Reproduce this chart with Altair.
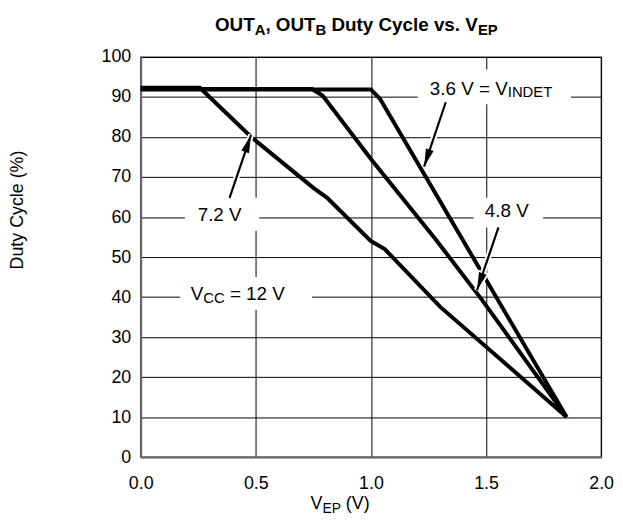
import math
import altair as alt
import pandas as pd

# ---------------- data ----------------
x_72 = [0.0, 0.257, 0.29, 0.48, 0.75, 0.81, 1.0, 1.06, 1.3, 1.85]
y_72 = [92.3, 92.3, 90.5, 80.0, 67.3, 64.8, 54.0, 52.0, 37.6, 10.0]

x_48 = [0.0, 0.744, 0.79, 1.0, 1.28, 1.48, 1.85]
y_48 = [92.0, 92.0, 90.4, 74.5, 54.5, 39.5, 10.0]

x_36 = [0.0, 1.0, 1.04, 1.85]
y_36 = [91.9, 91.9, 89.5, 10.0]

x_ticks = [0.0, 0.5, 1.0, 1.5, 2.0]
y_ticks = [0, 10, 20, 30, 40, 50, 60, 70, 80, 90, 100]

# annotation arrows (start -> tip, data units)
arrow_sx = [0.386, 1.325, 1.554]
arrow_sy = [64.8, 88.7, 57.4]
arrow_tx = [0.479, 1.231, 1.461]
arrow_ty = [80.5, 72.6, 41.7]

# white label boxes (data units)
box_x1 = [1.203, 0.192, 1.446, 0.171]
box_x2 = [1.869, 0.515, 1.748, 0.744]
box_y1 = [88.2, 56.6, 57.4, 36.8]
box_y2 = [96.9, 64.8, 64.8, 45.0]

# annotation label anchors (center x, baseline y)
lab_x = [1.522, 0.343, 1.590, 0.4215]
lab_y = [90.4, 59.0, 59.9, 39.2]

W, H = 465, 404
FONT = "Liberation Sans"

AR = {' ': 278, '(': 333, ')': 333, '.': 278, ',': 278, '=': 584, '%': 889,
      'A': 667, 'B': 667, 'C': 722, 'D': 722, 'E': 667, 'I': 278, 'N': 722,
      'O': 778, 'P': 667, 'T': 611, 'U': 722, 'V': 667,
      'c': 500, 'e': 556, 'l': 222, 's': 500, 't': 278, 'u': 556, 'v': 500, 'y': 500}
AB = {' ': 278, ',': 278, '.': 278, 'A': 722, 'B': 722, 'C': 722, 'D': 722,
      'E': 667, 'O': 778, 'P': 667, 'T': 611, 'U': 722, 'V': 667,
      'c': 556, 'e': 556, 'l': 278, 's': 556, 't': 333, 'u': 611, 'v': 556, 'y': 556}


def tw(s, size, bold=False):
    t = AB if bold else AR
    return sum(t.get(c, 556) for c in s) / 1000.0 * size


xs = alt.Scale(domain=[0, 2], nice=False)
ys = alt.Scale(domain=[0, 100], nice=False)


def rich(segs, x=None, y=None, xv=None, yv=None, anchor="center"):
    total = sum(tw(s, sz, b) for s, sz, b, sh in segs)
    off = -total / 2.0 if anchor == "center" else 0.0
    out = []
    for s, sz, b, sh in segs:
        lead = len(s) - len(s.lstrip(" "))
        core = s.strip(" ")
        d = off + tw(" " * lead, sz, b)
        mk = dict(align="left", baseline="alphabetic", font=FONT, fontSize=sz,
                  fontWeight="bold" if b else "normal", color="black", dx=d, dy=sh)
        if xv is not None:
            ch = alt.Chart(pd.DataFrame({"t": [core]})).mark_text(**mk).encode(
                x=alt.value(xv), y=alt.value(yv), text="t:N")
        else:
            ch = alt.Chart(pd.DataFrame({"x": [x], "y": [y], "t": [core]})).mark_text(**mk).encode(
                x=alt.X("x:Q", scale=xs),
                y=alt.Y("y:Q", scale=ys),
                text="t:N")
        out.append(ch)
        off += tw(s, sz, b)
    return out


# curves
rows = []
for name, xx, yy in [("7.2 V", x_72, y_72), ("4.8 V", x_48, y_48), ("3.6 V", x_36, y_36)]:
    for i, (a, b) in enumerate(zip(xx, yy)):
        rows.append({"series": name, "i": i, "x": a, "y": b})
curves_df = pd.DataFrame(rows)

curves = alt.Chart(curves_df).mark_line(color="black", strokeWidth=4, strokeJoin="miter").encode(
    x=alt.X("x:Q", scale=xs,
            axis=alt.Axis(values=x_ticks, format=".1f", grid=True, gridColor="black",
                          gridWidth=1, gridOpacity=1, ticks=False, tickSize=0,
                          domainColor="#666", domainWidth=2, labelFontSize=18,
                          labelFont=FONT, labelColor="black", labelPadding=17.5,
                          labelFlush=False, labelOverlap=False, title="")),
    y=alt.Y("y:Q", scale=ys,
            axis=alt.Axis(values=y_ticks, grid=True, gridColor="black", gridWidth=1,
                          gridOpacity=1, ticks=False, tickSize=0, domainColor="#666",
                          domainWidth=2, labelFontSize=18, labelFont=FONT,
                          labelColor="black", labelPadding=10, labelFlush=False,
                          labelOverlap=False, title="Duty Cycle (%)", titleFont=FONT,
                          titleFontSize=18, titleFontWeight="normal", titleColor="black",
                          titleX=-124, titleY=154, titleAngle=270, titleAlign="center",
                          titleBaseline="middle")),
    detail="series:N",
    order="i:Q",
)

boxes_df = pd.DataFrame({"x1": box_x1, "x2": box_x2, "y1": box_y1, "y2": box_y2})
boxes = alt.Chart(boxes_df).mark_rect(fill="white", opacity=1).encode(
    x=alt.X("x1:Q", scale=xs), x2="x2:Q",
    y=alt.Y("y1:Q", scale=ys), y2="y2:Q")

px_x = W / 2.0
px_y = H / 100.0
angles = []
for sx, sy, tx, ty in zip(arrow_sx, arrow_sy, arrow_tx, arrow_ty):
    dx = (tx - sx) * px_x
    dy = -(ty - sy) * px_y
    angles.append(math.degrees(math.atan2(dx, -dy)) % 360)

arr_df = pd.DataFrame({"sx": arrow_sx, "sy": arrow_sy, "tx": arrow_tx, "ty": arrow_ty,
                       "angle": angles})

halo = alt.Chart(arr_df).mark_rule(color="white", strokeWidth=6).encode(
    x=alt.X("sx:Q", scale=xs), y=alt.Y("sy:Q", scale=ys),
    x2="tx:Q", y2="ty:Q")
shaft = alt.Chart(arr_df).mark_rule(color="black", strokeWidth=2.2).encode(
    x=alt.X("sx:Q", scale=xs), y=alt.Y("sy:Q", scale=ys),
    x2="tx:Q", y2="ty:Q")

HEAD = "M0,0L0.45,2L-0.45,2Z"
head_halo = alt.Chart(arr_df).mark_point(shape=HEAD, size=324, fill="white", stroke="white",
                                         strokeWidth=4, opacity=1, fillOpacity=1).encode(
    x=alt.X("tx:Q", scale=xs), y=alt.Y("ty:Q", scale=ys),
    angle=alt.Angle("angle:Q", scale=None))
head = alt.Chart(arr_df).mark_point(shape=HEAD, size=324, filled=True, fill="black",
                                    strokeWidth=0, opacity=1, fillOpacity=1).encode(
    x=alt.X("tx:Q", scale=xs), y=alt.Y("ty:Q", scale=ys),
    angle=alt.Angle("angle:Q", scale=None))

texts = []
texts += rich([("3.6 V = V", 19, False, 0), ("INDET", 15, False, 2)], x=lab_x[0], y=lab_y[0])
texts += rich([("7.2 V", 19, False, 0)], x=lab_x[1], y=lab_y[1])
texts += rich([("4.8 V", 19, False, 0)], x=lab_x[2], y=lab_y[2])
texts += rich([("V", 19, False, 0), ("CC", 15, False, 3), (" = 12 V", 19, False, 0)],
              x=lab_x[3], y=lab_y[3])

# chart title and x-axis title with subscripts
texts += rich([("OUT", 19, True, 0), ("A", 15, True, 4), (", OUT", 19, True, 0),
               ("B", 15, True, 4), (" Duty Cycle vs. V", 19, True, 0), ("EP", 15, True, 4)],
              xv=75, yv=-26, anchor="left")
texts += rich([("V", 18, False, 0), ("EP", 14, False, 4), (" (V)", 18, False, 0)],
              xv=171.5, yv=456, anchor="left")

chart = alt.layer(curves, boxes, halo, head_halo, shaft, head, *texts).properties(
    width=W, height=H,
    autosize=alt.AutoSizeParams(type="none"),
    padding={"left": 134, "top": 47, "right": 14, "bottom": 59},
).configure_view(stroke="#777", strokeWidth=1.5)

chart.save("out.html", embed_options={"renderer": "svg", "actions": False})
